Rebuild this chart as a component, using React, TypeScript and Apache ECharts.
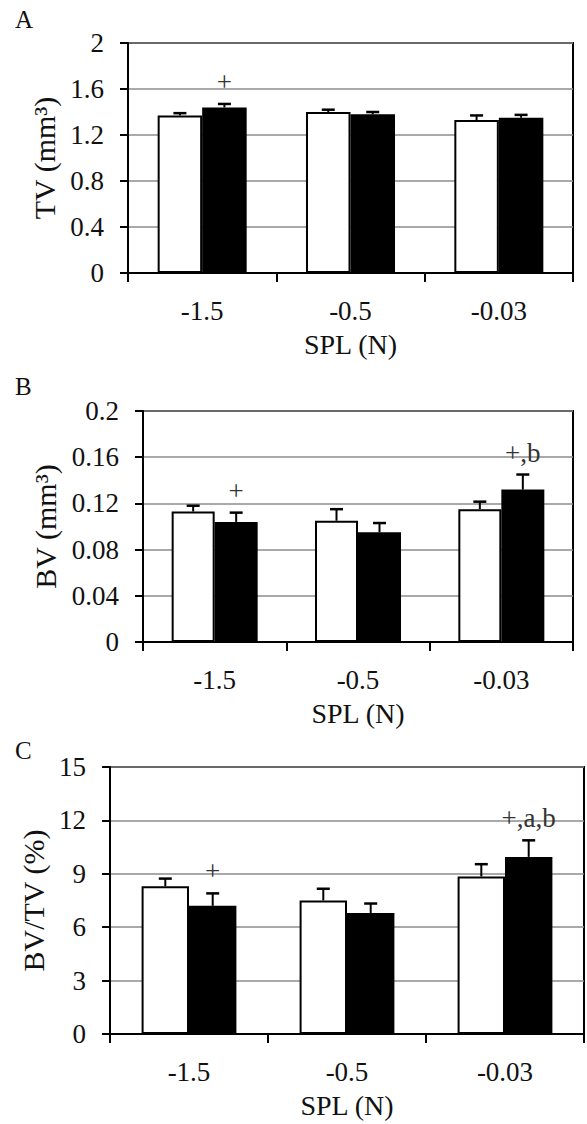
import React, { useEffect, useRef } from "react";
import * as echarts from "echarts";

const categories = ["-1.5", "-0.5", "-0.03"];

const tvWhite = [1.37, 1.4, 1.33];
const tvWhiteErr = [0.02, 0.02, 0.04];
const tvBlack = [1.44, 1.38, 1.35];
const tvBlackErr = [0.03, 0.02, 0.025];
const tvBlackNotes = ["+", "", ""];

const bvWhite = [0.113, 0.105, 0.115];
const bvWhiteErr = [0.005, 0.01, 0.0065];
const bvBlack = [0.104, 0.095, 0.132];
const bvBlackErr = [0.008, 0.008, 0.013];
const bvBlackNotes = ["+", "", "+,b"];

const bvtvWhite = [8.3, 7.5, 8.85];
const bvtvWhiteErr = [0.43, 0.66, 0.69];
const bvtvBlack = [7.2, 6.8, 9.95];
const bvtvBlackErr = [0.7, 0.53, 0.93];
const bvtvBlackNotes = ["+", "", "+,a,b"];

const panelLetters = ["A", "B", "C"];
const yNames = ["TV (mm³)", "BV (mm³)", "BV/TV (%)"];
const xName = "SPL (N)";

const FONT = "'Liberation Serif', 'Times New Roman', serif";

export default function App() {
  const ref = useRef<HTMLDivElement>(null);

  useEffect(() => {
    if (!ref.current) return;
    const chart = echarts.init(ref.current, undefined, { renderer: "svg" });

    const grids = [
      { left: 128, right: 14, top: 43, height: 230 },
      { left: 143, right: 14, top: 411, height: 231 },
      { left: 110, right: 3, top: 767, height: 267 },
    ];
    const yRanges = [
      { min: 0, max: 2, interval: 0.4 },
      { min: 0, max: 0.2, interval: 0.04 },
      { min: 0, max: 15, interval: 3 },
    ];
    const yNameGaps = [63, 80, 48];

    const panels = [
      { w: tvWhite, we: tvWhiteErr, b: tvBlack, be: tvBlackErr, notes: tvBlackNotes },
      { w: bvWhite, we: bvWhiteErr, b: bvBlack, be: bvBlackErr, notes: bvBlackNotes },
      { w: bvtvWhite, we: bvtvWhiteErr, b: bvtvBlack, be: bvtvBlackErr, notes: bvtvBlackNotes },
    ];

    const errSeries = (
      idx: number,
      vals: number[],
      errs: number[],
      offsetFrac: number,
      notes: string[] | null
    ) => ({
      type: "custom",
      xAxisIndex: idx,
      yAxisIndex: idx,
      z: 5,
      data: vals.map((v, i) => [i, v, errs[i]]),
      renderItem: (params: any, api: any) => {
        const cat = api.value(0);
        const v = api.value(1);
        const e = api.value(2);
        const base = api.coord([cat, v]);
        const top = api.coord([cat, v + e]);
        const catW = api.size([1, 0])[0];
        const x = base[0] + offsetFrac * catW;
        const children: any[] = [
          {
            type: "line",
            shape: { x1: x, y1: base[1], x2: x, y2: top[1] },
            style: { stroke: "#000", lineWidth: 2 },
          },
          {
            type: "line",
            shape: { x1: x - 6.5, y1: top[1], x2: x + 6.5, y2: top[1] },
            style: { stroke: "#000", lineWidth: 2.5 },
          },
        ];
        const note = notes ? notes[params.dataIndex] : "";
        if (note) {
          children.push({
            type: "text",
            x: x,
            y: top[1] - 22,
            style: {
              text: note,
              fill: "#333",
              font: `27px ${FONT}`,
              align: "center",
              verticalAlign: "middle",
            },
          });
        }
        return { type: "group", children };
      },
    });

    const series: any[] = [];
    panels.forEach((p, idx) => {
      series.push({
        type: "bar",
        xAxisIndex: idx,
        yAxisIndex: idx,
        data: p.w,
        barGap: "0%",
        barCategoryGap: "40%",
        itemStyle: { color: "#fff", borderColor: "#000", borderWidth: 2 },
        z: 3,
      });
      series.push({
        type: "bar",
        xAxisIndex: idx,
        yAxisIndex: idx,
        data: p.b,
        barGap: "0%",
        barCategoryGap: "40%",
        itemStyle: { color: "#000", borderColor: "#000", borderWidth: 2 },
        z: 3,
      });
      series.push(errSeries(idx, p.w, p.we, -0.15, null));
      series.push(errSeries(idx, p.b, p.be, 0.15, p.notes));
    });

    const option: any = {
      animation: false,
      backgroundColor: "#fff",
      title: panelLetters.map((t, i) => ({
        text: t,
        left: 10,
        top: [2, 369, 733][i],
        textStyle: { fontFamily: FONT, fontSize: 25, fontWeight: "normal", color: "#111" },
      })),
      grid: grids.map((g) => ({
        ...g,
        show: true,
        borderColor: "#000",
        borderWidth: 2,
        backgroundColor: "transparent",
      })),
      xAxis: grids.map((_, i) => ({
        type: "category",
        gridIndex: i,
        data: categories,
        name: xName,
        nameLocation: "middle",
        nameGap: 57,
        nameTextStyle: { fontFamily: FONT, fontSize: 28, color: "#111" },
        axisLine: { show: true, lineStyle: { color: "#000", width: 2 } },
        axisTick: { show: true, interval: 0, alignWithLabel: false, length: 9, lineStyle: { color: "#000", width: 2 } },
        axisLabel: { margin: 24, fontFamily: FONT, fontSize: 27, color: "#111" },
        splitLine: { show: false },
      })),
      yAxis: grids.map((_, i) => ({
        type: "value",
        gridIndex: i,
        ...yRanges[i],
        name: yNames[i],
        nameLocation: "middle",
        nameGap: yNameGaps[i],
        nameTextStyle: { fontFamily: FONT, fontSize: 30, color: "#111" },
        axisLine: { show: true, lineStyle: { color: "#000", width: 2 } },
        axisTick: { show: true, length: 8, lineStyle: { color: "#000", width: 2 } },
        axisLabel: { margin: 24, fontFamily: FONT, fontSize: 27, color: "#111" },
        splitLine: { show: true, lineStyle: { color: "#8c8c8c", width: 1.5 } },
      })),
      series,
    };

    chart.setOption(option);
    return () => chart.dispose();
  }, []);

  return (
    <div
      ref={ref}
      style={{ position: "absolute", left: 0, top: 0, width: 587, height: 1124, background: "#fff" }}
    />
  );
}
